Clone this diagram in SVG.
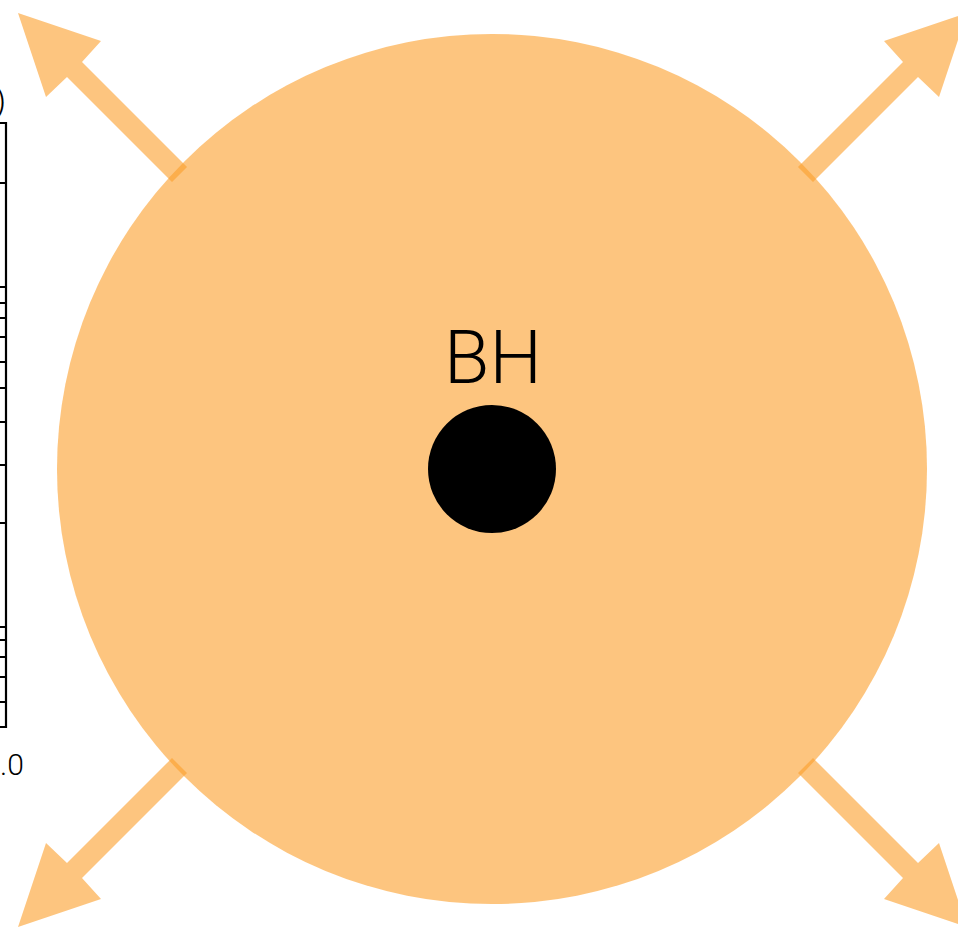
<svg xmlns="http://www.w3.org/2000/svg" width="958" height="928" viewBox="0 0 958 928">
<defs>
<style>
.halo{fill:#FB9F2A;opacity:0.6}
.axis{fill:none;stroke:#000;stroke-width:2.2}
.lbl{font-family:Roboto,"Liberation Sans",sans-serif;font-weight:300;fill:#000}
</style>
<polygon id="arr" points="18,13 101,41 82,62 187,167 172,182 67,77 46,97"/>
</defs>
<g id="axis-fragment">
<text class="lbl" x="6" y="112" font-size="34" text-anchor="end">)</text>
<path class="axis" d="M0,123 H6 V727 H0 M0,183 H6 M0,287 H6 M0,303 H6 M0,318 H6 M0,337 H6 M0,362 H6 M0,388 H6 M0,422 H6 M0,465 H6 M0,523 H6 M0,627 H6 M0,640 H6 M0,657 H6 M0,677 H6 M0,702 H6"/>
<text class="lbl" x="0" y="775" font-size="30" font-weight="400">.0</text>
</g>
<g id="halo">
<circle class="halo" cx="492" cy="469" r="435"/>
</g>
<g id="connectors">
<use href="#arr" class="halo"/>
<use href="#arr" class="halo" transform="matrix(-1,0,0,1,985,0)"/>
<use href="#arr" class="halo" transform="matrix(1,0,0,-1,0,940)"/>
<use href="#arr" class="halo" transform="matrix(-1,0,0,-1,985,940)"/>
</g>
<g id="bh">
<circle cx="492" cy="469" r="64" fill="#000"/>
<text class="lbl" x="493" y="383" font-size="74" text-anchor="middle">BH</text>
</g>
</svg>
